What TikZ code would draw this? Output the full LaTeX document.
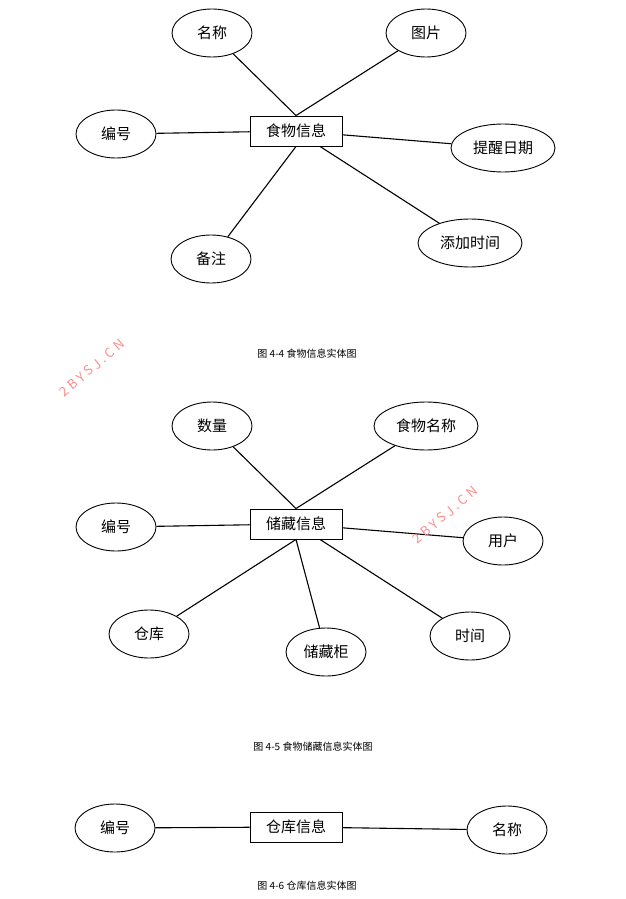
\documentclass[tikz,border=0pt]{standalone}
\usepackage{fontspec}
\setmainfont{Noto Sans CJK SC}
\usetikzlibrary{shapes.geometric}
\tikzset{attr/.style={ellipse, draw, line width=0.9pt, minimum width=80pt, minimum height=48pt, inner sep=1pt, font=\fontsize{15}{15}\selectfont},
  wide/.style={minimum width=104pt},
  entity/.style={rectangle, draw, line width=0.9pt, minimum width=92pt, minimum height=30pt, font=\fontsize{15}{15}\selectfont},
  link/.style={line width=1.1pt},
  caption/.style={font=\fontsize{10}{10}\selectfont},
  wmark/.style={text=red!45!white, rotate=40, font=\fontsize{13}{13}\selectfont\addfontfeatures{LetterSpace=25}}}

\begin{document}
\begin{tikzpicture}[x=1pt, y=-1pt]
\useasboundingbox (0,0) rectangle (625,899);

% figure 4-4
\node[entity] (food) at (296,131) {食物信息};
\node[attr] (fname) at (212,33) {名称};
\node[attr] (fpic) at (426,33) {图片};
\node[attr] (fid) at (116,134) {编号};
\node[attr, wide] (fdate) at (503,148) {提醒日期};
\node[attr] (fnote) at (211,259) {备注};
\node[attr, wide] (ftime) at (470,243) {添加时间};
\node[caption] (cap1) at (307,354) {图 4-4 食物信息实体图};
\draw[link] (fname) -- (food.north);
\draw[link] (fpic) -- (food.north);
\draw[link] (fid) -- (food);
\draw[link] (fdate) -- (food);
\draw[link] (fnote) -- (food.south);
\draw[link] (ftime) -- (food);

% figure 4-5
\node[entity] (store) at (296,524) {储藏信息};
\node[attr] (snum) at (212,426) {数量};
\node[attr, wide] (sfood) at (426,426) {食物名称};
\node[attr] (sid) at (116,527) {编号};
\node[attr] (suser) at (503,541) {用户};
\node[attr] (swh) at (149,634) {仓库};
\node[attr] (scab) at (326,652) {储藏柜};
\node[attr] (stime) at (470,636) {时间};
\node[caption] (cap2) at (313,747) {图 4-5 食物储藏信息实体图};
\draw[link] (snum) -- (store.north);
\draw[link] (sfood) -- (store.north);
\draw[link] (sid) -- (store);
\draw[link] (suser) -- (store);
\draw[link] (swh) -- (store.south);
\draw[link] (scab) -- (store.south);
\draw[link] (stime) -- (store);

% figure 4-6
\node[entity] (wh) at (296,827) {仓库信息};
\node[attr] (wid) at (115,828) {编号};
\node[attr] (wname) at (507,830) {名称};
\node[caption] (cap3) at (307,886) {图 4-6 仓库信息实体图};
\draw[link] (wid) -- (wh);
\draw[link] (wname) -- (wh);

% watermarks
\node[wmark] (wm1) at (92,368) {2BYSJ.CN};
\node[wmark] (wm2) at (445,515) {2BYSJ.CN};
\end{tikzpicture}
\end{document}
